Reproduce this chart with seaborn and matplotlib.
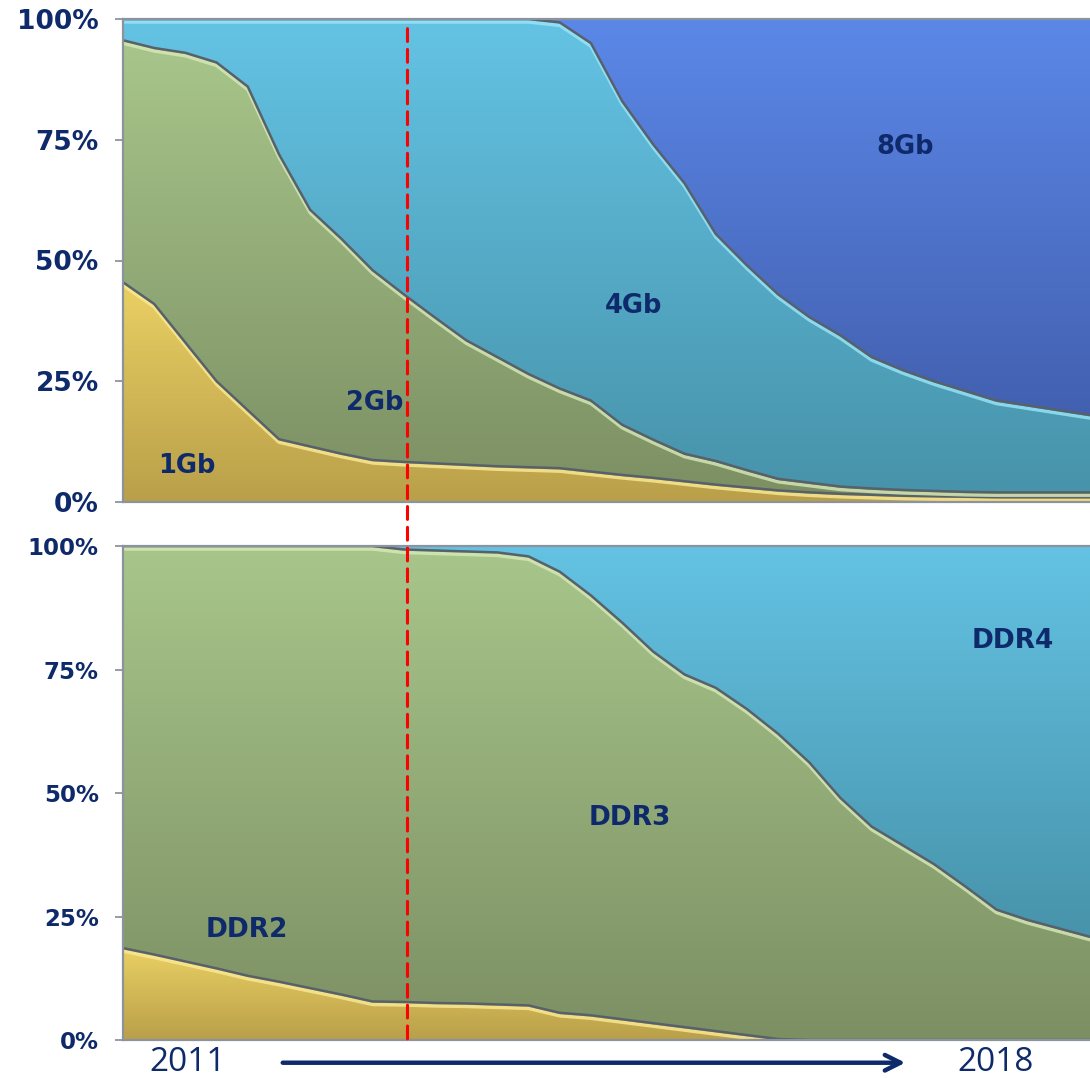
import numpy as np
import pandas as pd
import seaborn as sns
import matplotlib.pyplot as plt
import matplotlib.patheffects as pe
import matplotlib.transforms as mtransforms
from matplotlib.colors import LinearSegmentedColormap
from matplotlib.patches import ConnectionPatch
from matplotlib.path import Path

# quarters 2011Q1 .. 2018Q4
quarters = [2011 + q / 4 for q in range(32)]

# densidade (share %, por trimestre)
gb1 = [45.5, 41, 33, 25, 19, 13, 11.5, 10, 8.7, 8.3, 8, 7.7, 7.4, 7.2, 7, 6.3,
       5.6, 5, 4.3, 3.6, 3, 2.4, 2, 1.7, 1.5, 1.3, 1.2, 1.1, 1, 1, 1, 1]
gb2 = [50.1, 53, 60, 66, 67, 59, 49, 44.5, 39.3, 34.7, 30.2, 25.8, 22.6, 19.3, 16.5, 14.7,
       10.4, 7.9, 5.7, 4.9, 3.6, 2.4, 2, 1.5, 1.3, 1.2, 1.1, 1, 1, 1, 1, 1]
gb4 = [4.4, 6, 7, 9, 14, 28, 39.5, 45.5, 52, 57, 61.8, 66.5, 70, 73.5, 75.8, 74,
       67, 61.1, 56, 47, 42.4, 38.2, 34.3, 31.3, 27.2, 24.8, 22.7, 20.9, 19, 18, 17, 16]
gb8 = [0, 0, 0, 0, 0, 0, 0, 0, 0, 0, 0, 0, 0, 0, 0.7, 5,
       17, 26, 34, 44.5, 51, 57, 61.7, 65.5, 70, 72.7, 75, 77, 79, 80, 81, 82]

# tipo de memoria
ddr2 = [18.6, 17.3, 15.9, 14.5, 13, 11.8, 10.5, 9.2, 7.8, 7.7, 7.5, 7.4, 7.2, 7, 5.5, 5,
        4.2, 3.4, 2.6, 1.8, 1, 0.2, 0, 0, 0, 0, 0, 0, 0, 0, 0, 0]
ddr3 = [81.4, 82.7, 84.1, 85.5, 87, 88.2, 89.5, 90.8, 92.2, 91.6, 91.6, 91.5, 91.5, 90.9, 89.3, 85,
        80.3, 75.2, 71.4, 69.5, 66, 61.8, 56.2, 49, 43.2, 39.4, 35.6, 31.1, 26.4, 24.3, 22.6, 20.9]
ddr4 = [0, 0, 0, 0, 0, 0, 0, 0, 0, 0.7, 0.9, 1.1, 1.3, 2.1, 5.2, 10,
        15.5, 21.4, 26, 29.5, 33, 38, 43.8, 51, 56.8, 60.6, 64.4, 68.9, 73.6, 75.7, 77.4, 79.1]

top_names = ['1Gb', '2Gb', '4Gb', '8Gb']
bot_names = ['DDR2', 'DDR3', 'DDR4']
yticks = [0, 25, 50, 75, 100]
ytick_labels = ['0%', '25%', '50%', '75%', '100%']
marco = 2013.28  # linha vermelha

df_top = pd.DataFrame({'1Gb': gb1, '2Gb': gb2, '4Gb': gb4, '8Gb': gb8}, index=quarters)
df_bot = pd.DataFrame({'DDR2': ddr2, 'DDR3': ddr3, 'DDR4': ddr4}, index=quarters)

# cores: (claro em cima, escuro embaixo, realce)
cor_amarelo = ('#ead063', '#b99f49', '#fbeb96')
cor_verde = ('#a8c68b', '#7c8f63', '#d8eab8')
cor_azul = ('#64c3e4', '#4793aa', '#9be6f8')
cor_azul2 = ('#5b88e8', '#4360b0', '#8fb0f5')
cores_top = [cor_amarelo, cor_verde, cor_azul, cor_azul2]
cores_bot = [cor_amarelo, cor_verde, cor_azul]

navy = '#0f2a6b'
cinza = '#8d939d'

sns.set_style('white')
plt.rcParams['font.family'] = ['DejaVu Sans']

fig = plt.figure(figsize=(10.9, 10.78), dpi=100)
ax1 = fig.add_axes([123/1090, 1-502/1078, 967/1090, 483/1078])
ax2 = fig.add_axes([123/1090, 1-1040/1078, 967/1090, 494/1078])

grad = np.linspace(0, 1, 256).reshape(-1, 1)


def empilhar(ax, df, cores):
    x = df.index.values
    base = np.zeros(len(df))
    for nome, (c_top, c_bot, c_hi) in zip(df.columns, cores):
        topo = base + df[nome].values
        poly = ax.fill_between(x, base, topo, color=c_bot, lw=0, zorder=1)
        # gradiente vertical dentro da caixa da serie
        cmap = LinearSegmentedColormap.from_list(nome, [c_bot, c_top])
        im = ax.imshow(grad, extent=[x[0], x[-1], base.min(), topo.max()], origin='lower',
                       aspect='auto', cmap=cmap, zorder=1.5)
        im.set_clip_path(Path.make_compound_path(*poly.get_paths()), ax.transData)
        if topo.min() < 99.9:
            sns.lineplot(x=x, y=topo, ax=ax, color='#56616b', lw=1.8, zorder=3,
                         path_effects=[pe.SimpleLineShadow(offset=(0, -2.2), shadow_color=c_hi,
                                                           alpha=0.8, linewidth=2.4),
                                       pe.Normal()])
        base = topo
    ax.set_xlim(x[0], x[-1])
    ax.set_ylim(0, 100)
    ax.set_yticks(yticks)
    ax.set_xticks([])
    for s in ['left', 'top', 'bottom']:
        ax.spines[s].set_visible(True)
        ax.spines[s].set_color(cinza)
        ax.spines[s].set_linewidth(1.6)
        ax.spines[s].set_zorder(5)
    ax.spines['right'].set_visible(False)
    ax.tick_params(axis='y', left=True, length=5.5, width=1.3, color=cinza, pad=12)


empilhar(ax1, df_top, cores_top)
empilhar(ax2, df_bot, cores_bot)

ax1.set_yticklabels(ytick_labels, fontsize=19, fontweight='bold', color=navy)
ax2.set_yticklabels(ytick_labels, fontsize=16.5, fontweight='bold', color=navy)

# rotulos das areas
rotulos_top = {'1Gb': (2011.51, 7.5), '2Gb': (2013.02, 20.5), '4Gb': (2015.09, 40.6), '8Gb': (2017.27, 73.5)}
rotulos_bot = {'DDR2': (2011.99, 22.3), 'DDR3': (2015.06, 44.9), 'DDR4': (2018.13, 80.8)}
for nome, (xx, yy) in rotulos_top.items():
    ax1.text(xx, yy, nome, ha='center', va='center', fontsize=18.5, fontweight='bold', color=navy, zorder=6)
for nome, (xx, yy) in rotulos_bot.items():
    ax2.text(xx, yy, nome, ha='center', va='center', fontsize=19, fontweight='bold', color=navy, zorder=6)

# linha vermelha tracejada atravessando os dois graficos
con = ConnectionPatch(xyA=(marco, 98), coordsA=ax1.transData,
                      xyB=(marco, -1), coordsB=ax2.transData,
                      color='red', lw=2.2, linestyle=(0, (4.2, 2.6)), zorder=10)
fig.add_artist(con)

# anos e seta
trans = mtransforms.blended_transform_factory(ax2.transData, ax2.transAxes)
ax2.text(2011.52, -0.046, '2011', transform=trans, ha='center', va='center',
         fontsize=24, color=navy, family='Open Sans', clip_on=False)
ax2.text(2017.99, -0.046, '2018', transform=trans, ha='center', va='center',
         fontsize=24, color=navy, family='Open Sans', clip_on=False)
ax2.annotate('', xy=(2017.27, -0.046), xytext=(2012.28, -0.046),
             xycoords=trans, textcoords=trans, annotation_clip=False,
             arrowprops=dict(arrowstyle='->', color=navy, lw=3.2, mutation_scale=28,
                             shrinkA=0, shrinkB=0))

plt.savefig('out.png', dpi=100)
plt.close()
